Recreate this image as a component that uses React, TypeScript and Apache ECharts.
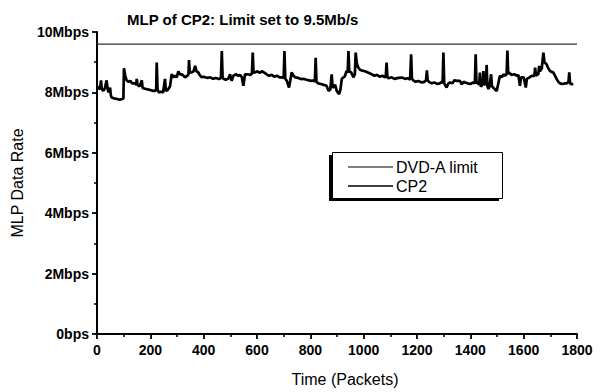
import React, { useEffect, useRef } from "react";
import * as echarts from "echarts";

const titleText = "MLP of CP2: Limit set to 9.5Mb/s";
const xAxisName = "Time (Packets)";
const yAxisName = "MLP Data Rate";
const seriesNames = ["DVD-A limit", "CP2"];

// DVD-A limit line (packets, Mbps)
const limitPackets = [0, 1800];
const limitRate = [9.6, 9.6];

// CP2 trace (packets, Mbps)
const cp2Packets = [
  0, 6, 11, 15, 18, 24, 30, 36, 40, 43, 49, 52, 55, 65, 75, 85, 95, 99, 101, 106,
  111, 118, 125, 132, 143, 147, 149, 152, 160, 168, 171, 180, 190, 200, 210, 218, 222, 224, 227, 232,
  240, 248, 255, 258, 265, 274, 280, 287, 293, 299, 305, 311, 318, 324, 330, 338, 343, 345, 348, 355,
  362, 368, 373, 380, 387, 393, 400, 405, 415, 425, 435, 445, 455, 461, 465, 468, 471, 474, 483, 493,
  499, 505, 511, 520, 530, 537, 543, 549, 555, 565, 575, 581, 584, 587, 593, 600, 610, 620, 630, 636,
  645, 655, 665, 675, 685, 693, 700, 703, 706, 712, 720, 725, 730, 737, 743, 755, 765, 775, 785, 795,
  805, 812, 817, 820, 823, 830, 840, 850, 861, 868, 875, 880, 884, 893, 899, 908, 913, 918, 925, 930,
  936, 940, 943, 946, 953, 962, 967, 970, 974, 978, 986, 995, 1005, 1018, 1030, 1040, 1050, 1060, 1070, 1080,
  1083, 1086, 1089, 1093, 1105, 1115, 1130, 1143, 1155, 1165, 1174, 1178, 1181, 1186, 1195, 1205, 1218, 1228, 1234, 1237,
  1240, 1245, 1255, 1265, 1275, 1285, 1293, 1296, 1299, 1302, 1311, 1318, 1324, 1333, 1340, 1350, 1361, 1368, 1375, 1380,
  1390, 1400, 1411, 1417, 1420, 1423, 1428, 1433, 1436, 1439, 1443, 1447, 1449, 1452, 1455, 1459, 1461, 1464, 1468, 1472,
  1478, 1481, 1486, 1492, 1499, 1505, 1511, 1518, 1524, 1530, 1536, 1539, 1542, 1545, 1555, 1565, 1575, 1580, 1586, 1590,
  1600, 1608, 1612, 1622, 1630, 1640, 1643, 1646, 1652, 1655, 1658, 1661, 1668, 1674, 1678, 1686, 1692, 1699, 1705, 1711,
  1718, 1724, 1730, 1736, 1745, 1755, 1761, 1768, 1771, 1774, 1780, 1786,
];
const cp2Rate = [
  8.2, 8.15, 8.1, 8.4, 8.1, 8.05, 8.15, 8.4, 8.1, 8.0, 8.16, 7.9, 7.83, 7.8, 7.78, 7.76, 7.78, 7.8, 8.8, 8.55,
  8.4, 8.35, 8.38, 8.3, 8.3, 8.25, 8.45, 8.25, 8.2, 8.4, 8.15, 8.12, 8.1, 8.08, 8.05, 8.05, 8.1, 8.99, 8.1, 8.0,
  8.02, 8.0, 8.45, 8.05, 8.08, 8.2, 8.6, 8.5, 8.55, 8.5, 8.7, 8.6, 8.6, 8.55, 8.5, 8.55, 8.6, 9.07, 8.66, 8.66,
  8.7, 8.88, 8.7, 8.66, 8.55, 8.5, 8.52, 8.5, 8.48, 8.5, 8.45, 8.48, 8.45, 8.45, 8.5, 9.37, 8.5, 8.45, 8.42, 8.46,
  8.6, 8.38, 8.55, 8.6, 8.55, 8.58, 8.5, 8.22, 8.6, 8.6, 8.58, 8.62, 9.32, 8.65, 8.66, 8.7, 8.65, 8.7, 8.64, 8.6,
  8.55, 8.58, 8.52, 8.55, 8.5, 8.5, 8.48, 9.37, 8.45, 8.38, 8.16, 8.4, 8.66, 8.55, 8.5, 8.48, 8.44, 8.45, 8.42, 8.4,
  8.38, 8.4, 8.35, 9.15, 8.35, 8.3, 8.28, 8.25, 8.22, 8.05, 8.1, 8.6, 8.15, 8.25, 8.05, 7.94, 8.1, 8.45, 8.5, 8.55,
  8.71, 8.65, 9.37, 8.7, 8.66, 8.5, 8.6, 9.32, 8.99, 8.85, 8.75, 8.72, 8.7, 8.65, 8.6, 8.55, 8.58, 8.52, 8.55, 8.5,
  8.55, 8.99, 8.5, 8.47, 8.5, 8.45, 8.48, 8.49, 8.45, 8.47, 8.42, 9.26, 8.45, 8.4, 8.35, 8.38, 8.33, 8.35, 8.4, 8.73,
  8.4, 8.35, 8.3, 8.33, 8.28, 8.3, 8.35, 8.3, 9.32, 8.3, 8.16, 8.3, 8.33, 8.3, 8.4, 8.38, 8.38, 8.27, 8.35, 8.33,
  8.3, 8.28, 8.33, 8.3, 9.26, 8.3, 8.33, 8.25, 8.66, 8.2, 8.22, 8.3, 8.71, 8.25, 8.27, 8.3, 8.91, 8.2, 8.11, 8.2,
  8.6, 8.2, 8.16, 8.1, 8.05, 8.3, 8.55, 8.5, 8.6, 8.55, 8.6, 9.39, 8.6, 8.66, 8.58, 8.6, 8.55, 8.58, 8.22, 8.5,
  8.5, 8.16, 8.45, 8.5, 8.55, 8.55, 8.82, 8.55, 8.6, 8.6, 8.88, 8.7, 8.8, 9.32, 9.0, 8.93, 8.8, 8.71, 8.68, 8.66,
  8.55, 8.44, 8.35, 8.3, 8.28, 8.3, 8.3, 8.35, 8.66, 8.3, 8.27, 8.28,
];

const xTicks = { min: 0, max: 1800, interval: 200 };
const yTicks = { min: 0, max: 10, interval: 2 };

const FONT = "'Liberation Sans', Arial, Helvetica, sans-serif";

export default function App() {
  const ref = useRef<HTMLDivElement>(null);
  useEffect(() => {
    if (!ref.current) return;
    const chart = echarts.init(ref.current, undefined, { renderer: "svg" });
    const limitData = limitPackets.map((p, i) => [p, limitRate[i]]);
    const cp2Data = cp2Packets.map((p, i) => [p, cp2Rate[i]]);
    const legendX = 332;
    const legendY = 152;
    const legendW = 170;
    const legendH = 46;
    chart.setOption({
      animation: false,
      backgroundColor: "#ffffff",
      title: {
        text: titleText,
        left: 122,
        top: 7,
        textStyle: { fontFamily: FONT, fontSize: 15, fontWeight: "bold", color: "#000" },
      },
      grid: { left: 97, right: 25, top: 32, bottom: 57, containLabel: false },
      xAxis: {
        type: "value",
        min: xTicks.min,
        max: xTicks.max,
        interval: xTicks.interval,
        name: xAxisName,
        nameLocation: "middle",
        nameGap: 37,
        nameTextStyle: { fontFamily: FONT, fontSize: 16, color: "#000", padding: [0, 0, 0, 16] },
        axisLine: { show: true, lineStyle: { color: "#000", width: 2 } },
        axisTick: { show: true, inside: false, length: 5, lineStyle: { color: "#000", width: 1.8 } },
        minorTick: { show: true, splitNumber: 2, length: 3, lineStyle: { color: "#000", width: 1.5 } },
        axisLabel: {
          margin: 9,
          fontFamily: FONT,
          fontSize: 14,
          fontWeight: "bold",
          color: "#000",
          formatter: (v: number) => String(v),
        },
        splitLine: { show: false },
      },
      yAxis: {
        type: "value",
        min: yTicks.min,
        max: yTicks.max,
        interval: yTicks.interval,
        name: yAxisName,
        nameLocation: "middle",
        nameGap: 70,
        nameTextStyle: { fontFamily: FONT, fontSize: 16, color: "#000" },
        axisLine: { show: true, lineStyle: { color: "#000", width: 2 } },
        axisTick: { show: true, inside: false, length: 5, lineStyle: { color: "#000", width: 1.8 } },
        minorTick: { show: true, splitNumber: 2, length: 3, lineStyle: { color: "#000", width: 1.5 } },
        axisLabel: {
          margin: 8,
          fontFamily: FONT,
          fontSize: 14,
          fontWeight: "bold",
          color: "#000",
          formatter: (v: number) => (v === 0 ? "0bps" : `${v}Mbps`),
        },
        splitLine: { show: false },
      },
      legend: { show: false },
      series: [
        {
          name: seriesNames[0],
          type: "line",
          data: limitData,
          showSymbol: false,
          lineStyle: { color: "#333", width: 1.2 },
          z: 2,
        },
        {
          name: seriesNames[1],
          type: "line",
          data: cp2Data,
          showSymbol: false,
          lineStyle: { color: "#000", width: 2.7 },
          z: 3,
        },
      ],
      graphic: [
        {
          type: "rect",
          left: legendX - 3,
          top: legendY + 3,
          shape: { width: legendW, height: legendH },
          style: { fill: "#000" },
          z: 10,
        },
        {
          type: "rect",
          left: legendX,
          top: legendY,
          shape: { width: legendW, height: legendH },
          style: { fill: "#fff", stroke: "#000", lineWidth: 1 },
          z: 11,
        },
        {
          type: "line",
          shape: { x1: legendX + 16, y1: legendY + 15, x2: legendX + 61, y2: legendY + 15 },
          style: { stroke: "#000", lineWidth: 1.2 },
          z: 12,
        },
        {
          type: "text",
          x: legendX + 64,
          y: legendY + 15,
          style: {
            text: seriesNames[0],
            fontFamily: FONT,
            fontSize: 16,
            fill: "#000",
            textVerticalAlign: "middle",
          },
          z: 12,
        },
        {
          type: "line",
          shape: { x1: legendX + 16, y1: legendY + 34, x2: legendX + 61, y2: legendY + 34 },
          style: { stroke: "#000", lineWidth: 1.6 },
          z: 12,
        },
        {
          type: "text",
          x: legendX + 64,
          y: legendY + 34,
          style: {
            text: seriesNames[1],
            fontFamily: FONT,
            fontSize: 16,
            fill: "#000",
            textVerticalAlign: "middle",
          },
          z: 12,
        },
      ],
    });
    return () => chart.dispose();
  }, []);
  return (
    <div
      ref={ref}
      style={{ position: "fixed", left: 0, top: 0, width: 602, height: 392, background: "#fff" }}
    />
  );
}
